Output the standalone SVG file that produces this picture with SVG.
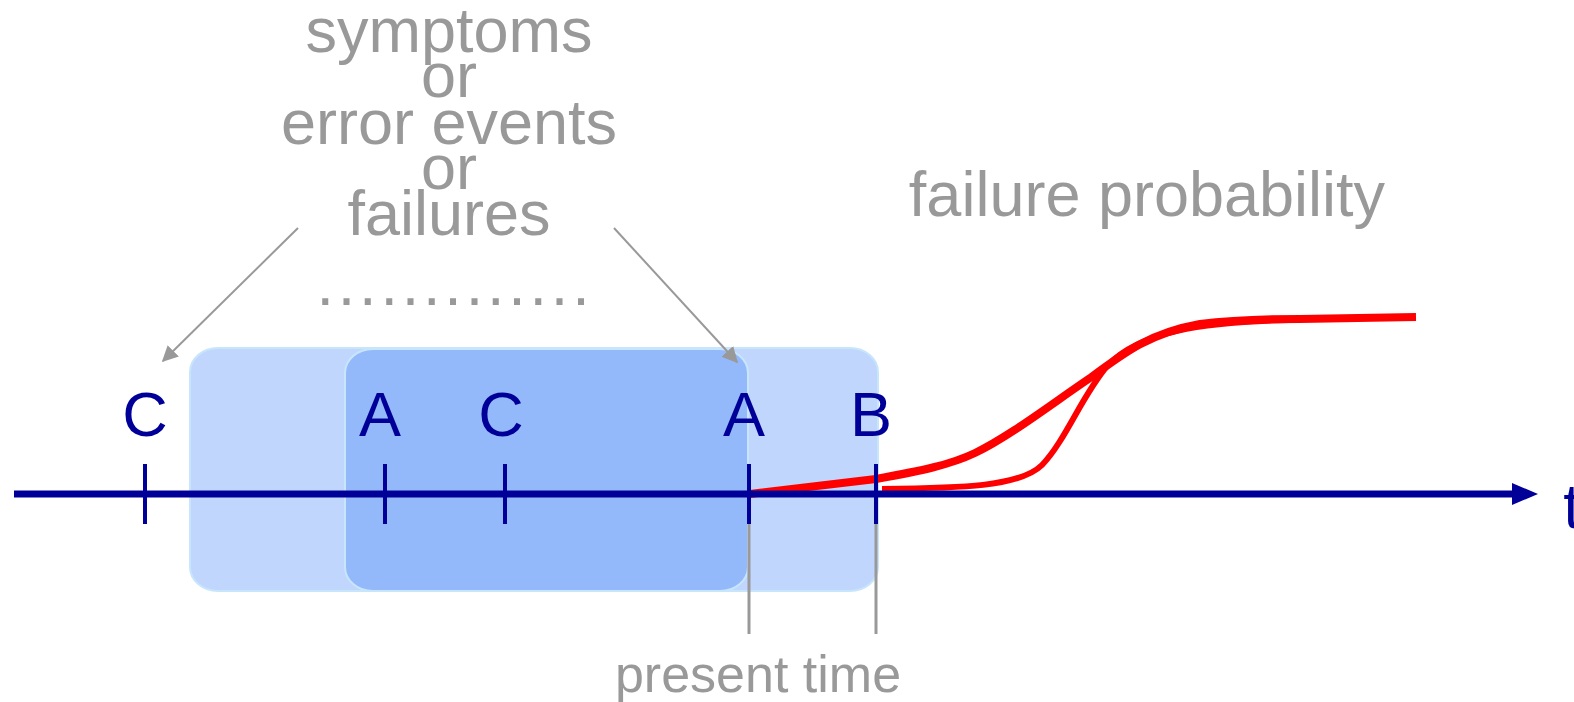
<svg xmlns="http://www.w3.org/2000/svg" width="1574" height="702" viewBox="0 0 1574 702">
<defs>
<style>
.gt{font-family:"Liberation Sans",Arial,sans-serif;fill:#999999;font-size:63px;text-anchor:middle}
.pt{font-size:52px}
.lab{font-family:"Liberation Sans",Arial,sans-serif;fill:#000099;font-size:63px;text-anchor:middle}
.win{fill:rgb(45,118,250);fill-opacity:0.3;stroke:#c8e6fb;stroke-width:2}
.tick{stroke:#000099;stroke-width:4}
.glead{stroke:#999999;stroke-width:3}
.garrow{stroke:#999999;stroke-width:2;fill:none;marker-end:url(#ga)}
.red{stroke:#ff0000;fill:none;stroke-linecap:butt;stroke-linejoin:round}
</style>
<marker id="ga" viewBox="0 0 10 10" refX="9" refY="5" markerWidth="8" markerHeight="8" markerUnits="strokeWidth" orient="auto">
<path d="M0,0 L10,5 L0,10 z" fill="#999999"/>
</marker>
</defs>
<rect width="1574" height="702" fill="#ffffff"/>

<g id="windows">
<rect id="window-wide" class="win" x="190" y="348" width="688" height="243" rx="28" ry="24"/>
<rect id="window-narrow" class="win" x="345" y="349" width="403" height="242" rx="28" ry="24" stroke="none"/>
</g>

<g id="title">
<text class="gt" x="449" y="52">symptoms</text>
<text class="gt" x="449" y="97">or</text>
<text class="gt" x="449" y="144">error events</text>
<text class="gt" x="449" y="189">or</text>
<text class="gt" x="449" y="235">failures</text>
</g>
<g id="dots"><text class="gt" x="455" y="305" letter-spacing="3.8">.............</text></g>
<g id="failure-probability"><text class="gt" x="1147" y="216">failure probability</text></g>
<g id="present-time"><text class="gt pt" x="758" y="692">present time</text></g>

<g id="connectors">
<line class="garrow" x1="298" y1="228" x2="163" y2="361"/>
<line class="garrow" x1="614" y1="228" x2="737" y2="362"/>
<line class="glead" x1="749" y1="524" x2="749" y2="634"/>
<line class="glead" x1="876" y1="524" x2="876" y2="634"/>
</g>

<g id="curves">
<path class="red" stroke-width="6" d="M 882 489 C 960 488, 1020 487, 1042 465 C 1066 440, 1082 395, 1108 365 C 1140 332, 1200 322, 1289 320"/>
<path class="red" stroke-width="8" d="M 750 494 L 876 479 C 920 471, 950 465, 975 453 C 1010 436, 1050 405, 1090 378 C 1125 352, 1150 333, 1200 324 C 1240 319, 1280 319, 1300 319 L 1416 317"/>
</g>

<g id="axis">
<line x1="14" y1="494" x2="1516" y2="494" stroke="#000099" stroke-width="7"/>
<polygon points="1512,483 1538,494 1512,505" fill="#000099"/>
<text class="lab" x="1572" y="528">t</text>
</g>

<g id="tick-C1"><line class="tick" x1="145" y1="464" x2="145" y2="524"/><text class="lab" x="145" y="436">C</text></g>
<g id="tick-A1"><line class="tick" x1="385" y1="464" x2="385" y2="524"/><text class="lab" x="380" y="436">A</text></g>
<g id="tick-C2"><line class="tick" x1="505" y1="464" x2="505" y2="524"/><text class="lab" x="501" y="436">C</text></g>
<g id="tick-A2"><line class="tick" x1="749" y1="464" x2="749" y2="524"/><text class="lab" x="744" y="436">A</text></g>
<g id="tick-B"><line class="tick" x1="876" y1="464" x2="876" y2="524"/><text class="lab" x="871" y="436">B</text></g>
</svg>
